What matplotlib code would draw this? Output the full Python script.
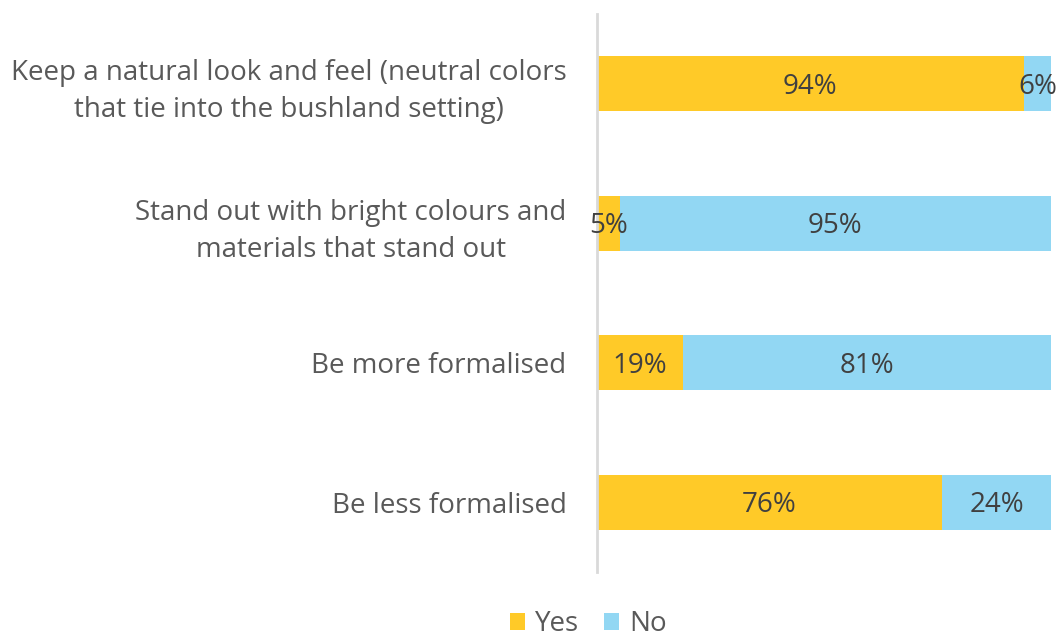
import numpy as np
import matplotlib.pyplot as plt

plt.rcParams['font.family'] = ['Open Sans', 'DejaVu Sans']

categories = ["Keep a natural look and feel (neutral colors\nthat tie into the bushland setting)",
              "Stand out with bright colours and\nmaterials that stand out",
              "Be more formalised",
              "Be less formalised"]
yes = [94, 5, 19, 76]
no = [6, 95, 81, 24]

yes_col = '#FFCA28'
no_col = '#92D7F3'

fig = plt.figure(figsize=(10.6, 6.41), dpi=100)
ax = fig.add_axes([0.5632, 0.1076, 0.4283, 0.8704])

y = np.arange(len(categories))
b1 = ax.barh(y, yes, height=0.395, color=yes_col, label='Yes')
b2 = ax.barh(y, no, left=yes, height=0.395, color=no_col, label='No')

for i in range(len(categories)):
    ax.text(yes[i] / 2, y[i] + 0.02, f"{yes[i]}%", ha='center', va='center',
            fontsize=20, color='#404040')
    ax.text(yes[i] + no[i] / 2, y[i] + 0.02, f"{no[i]}%", ha='center', va='center',
            fontsize=20, color='#404040')

ax.set_xlim(0, 100)
ax.set_ylim(3.5, -0.5)
ax.set_yticks(y)
ax.set_yticklabels(categories, fontsize=20, color='#595959',
                   multialignment='center', linespacing=1.42)
ax.tick_params(axis='y', length=0, pad=22)
ax.set_xticks([])
for s in ['top', 'right', 'bottom']:
    ax.spines[s].set_visible(False)
ax.spines['left'].set_color('#D9D9D9')
ax.spines['left'].set_linewidth(2)

leg = fig.legend(handles=[b1, b2], loc='center', bbox_to_anchor=(0.555, 0.026),
                 ncol=2, frameon=False, fontsize=20, handlelength=0.55, handleheight=0.55,
                 handletextpad=0.35, columnspacing=0.9, borderpad=0.1)
for t in leg.get_texts():
    t.set_color('#595959')

fig.savefig('out.png', dpi=100)
